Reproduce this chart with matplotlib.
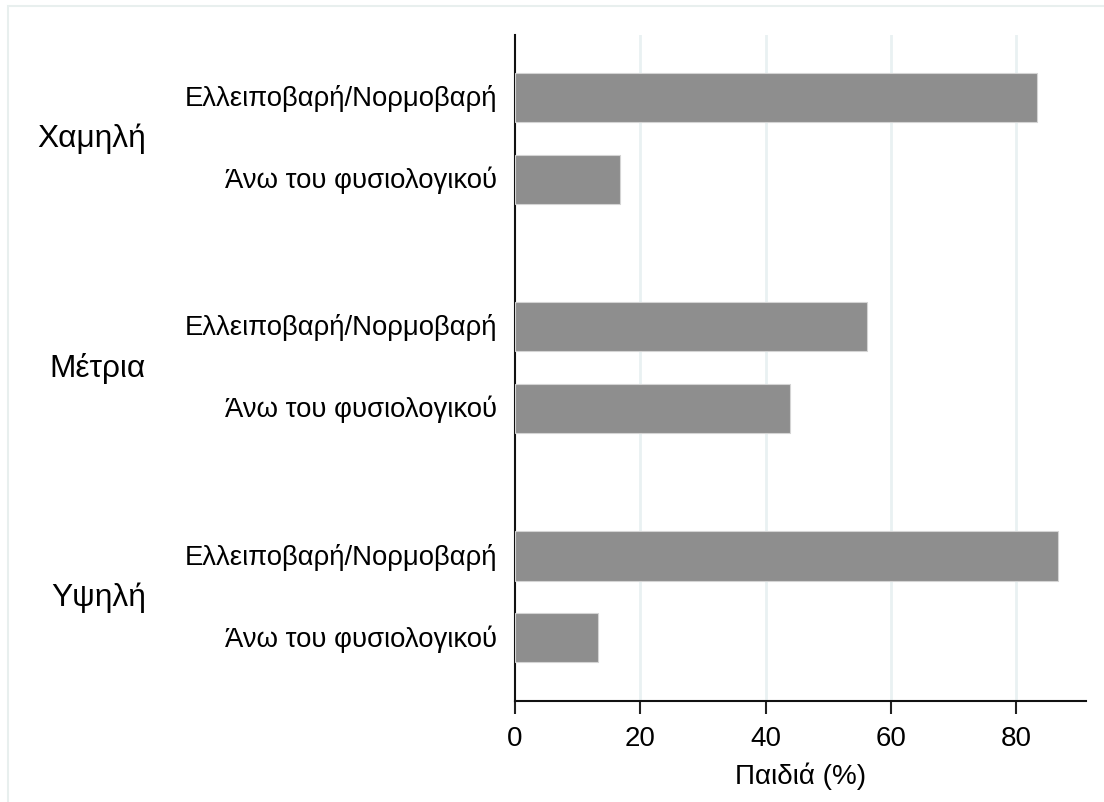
import matplotlib
matplotlib.use("Agg")
import matplotlib.pyplot as plt
import matplotlib.transforms as mtrans
from matplotlib.patches import Rectangle

groups = ["Χαμηλή", "Μέτρια", "Υψηλή"]
subcats = ["Ελλειποβαρή/Νορμοβαρή", "Άνω του φυσιολογικού"]
values = [[83.3, 16.7],
          [56.2, 43.8],
          [86.7, 13.3]]
xticks = [0, 20, 40, 60, 80]
xlabel = "Παιδιά (%)"

plt.rcParams['font.family'] = ['Liberation Sans', 'DejaVu Sans']

fig = plt.figure(figsize=(11.04, 8.03), dpi=100)
fig.patches.append(Rectangle((8/1104, -0.1), 1.2, 1.1 - 7/803, transform=fig.transFigure,
                             fill=False, edgecolor='#e8efee', linewidth=1.5))
ax = fig.add_axes([515/1104, 101/803, (1086-515)/1104, (702-36)/803])

group_gap = 2.8
ypos = []
for gi in range(len(groups)):
    for si in range(len(subcats)):
        ypos.append(gi * group_gap + si)

flat = [v for row in values for v in row]
ax.barh(ypos, flat, height=0.6, color='#8e8e8e', edgecolor='#d4d4d4', linewidth=0.8, zorder=3)

ax.set_ylim(6.6 + 0.77, -0.76)
ax.set_xlim(0, 91.1)
ax.set_xticks(xticks)
ax.set_xticklabels([str(t) for t in xticks], fontsize=20)
ax.tick_params(axis='x', length=9, width=1.5, pad=8, color='#222222')
ax.set_yticks([])
for x in xticks[1:]:
    ax.axvline(x, color='#e9f1f2', linewidth=2, zorder=1)

for s in ['top', 'right']:
    ax.spines[s].set_visible(False)
for s in ['left', 'bottom']:
    ax.spines[s].set_linewidth(1.5)
    ax.spines[s].set_color('#111111')

ax.set_xlabel(xlabel, fontsize=20, labelpad=8)

blend = mtrans.blended_transform_factory(fig.transFigure, ax.transData)
for gi, g in enumerate(groups):
    for si, sc in enumerate(subcats):
        y = gi * group_gap + si
        ax.text(497 / 1104, y, sc, ha='right', va='center', fontsize=19.8,
                transform=blend)
    yc = gi * group_gap + 0.5
    ax.text(146 / 1104, yc, g, ha='right', va='center', fontsize=22.8,
            transform=blend)

fig.savefig("out.png", dpi=100)
